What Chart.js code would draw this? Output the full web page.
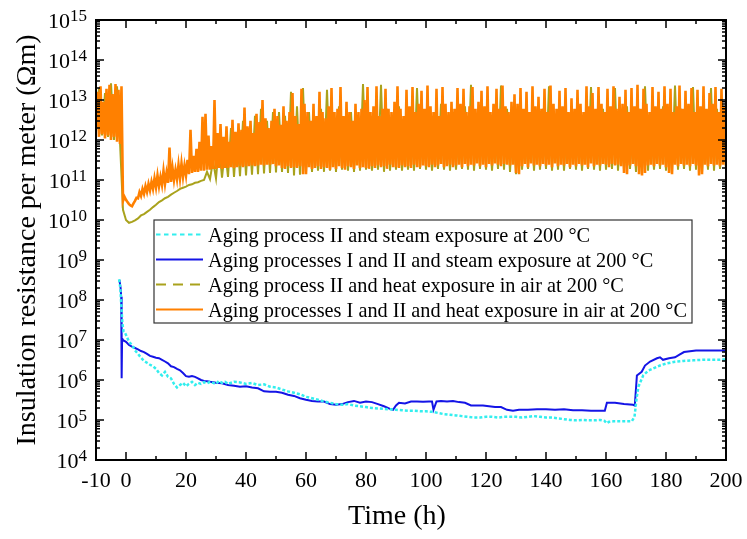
<!DOCTYPE html>
<html>
<head>
<meta charset="utf-8">
<title>Insulation resistance per meter</title>
<script src="https://cdn.jsdelivr.net/npm/chart.js@4/dist/chart.umd.min.js"></script>
<style>
  html, body { margin: 0; padding: 0; background: #fff; }
</style>
</head>
<body>
<canvas id="irChart" width="747" height="539"></canvas>
<script>
// axis ticks
const xTickLabels = [-10, 0, 20, 40, 60, 80, 100, 120, 140, 160, 180, 200];
const xMinorTicks = [10, 30, 50, 70, 90, 110, 130, 150, 170, 190];
const yExponents = [4, 5, 6, 7, 8, 9, 10, 11, 12, 13, 14, 15];

const seriesNames = [
  'Aging process II and steam exposure at 200 \u00b0C',
  'Aging processes I and II and steam exposure at 200 \u00b0C',
  'Aging process II and heat exposure in air at 200 \u00b0C',
  'Aging processes I and II and heat exposure in air at 200 \u00b0C'
];

// steam exposure, aging II (h, Ohm m)
const steamIITime = [-2.3, -1.9, -1.5, -1.2, -0.8, -0.3, 0.3, 1, 2, 3, 4, 5, 6, 7, 8, 9, 10, 11, 12, 13, 14, 15, 16, 17, 18, 19, 20,
  21, 22, 23, 24, 25, 26, 27, 28, 29, 30, 31, 32, 33, 34, 36, 38, 40, 42, 44, 46, 48, 50, 52, 54, 56, 58, 60, 62, 64, 66, 68, 70,
  72, 74, 76, 78, 80, 82, 84, 86, 88, 90, 92, 94, 96, 98, 100, 102, 104, 106, 108, 110, 112, 114, 116, 118, 120, 122, 124, 126,
  128, 130, 132, 134, 136, 138, 140, 142, 144, 146, 148, 150, 152, 154, 156, 158, 159.5, 160.2, 161, 162.5, 165, 168.6, 169.5,
  170.2, 170.8, 172.4, 174, 175.8, 178, 180.2, 183, 185.8, 189, 192.4, 196, 200];
const steamIIValue = [3.3e8, 2e8, 6e7, 2.6e7, 1.6e7, 1.5e7, 1.2e7, 9e6, 7.5e6, 5.5e6, 4.5e6, 3.6e6, 3e6, 2.7e6, 2.4e6, 2.2e6, 1.9e6,
  1.5e6, 1.3e6, 1.6e6, 1.2e6, 1.1e6, 8e5, 6.5e5, 7.5e5, 8.5e5, 7e5, 8e5, 9e5, 7.5e5, 8.5e5, 8e5, 8.8e5, 8.2e5, 9e5, 8.5e5, 8e5,
  9.5e5, 8.5e5, 9e5, 8e5, 9e5, 8.7e5, 8e5, 8.4e5, 7.5e5, 7.8e5, 6.8e5, 6.5e5, 5.8e5, 5.2e5, 4.8e5, 4.4e5, 3.8e5, 3.5e5, 3.2e5,
  2.9e5, 2.7e5, 2.5e5, 2.4e5, 2.5e5, 2.3e5, 2.2e5, 2.1e5, 2e5, 1.95e5, 1.9e5, 1.85e5, 1.8e5, 1.75e5, 1.7e5, 1.7e5, 1.65e5, 1.65e5,
  1.6e5, 1.5e5, 1.4e5, 1.35e5, 1.3e5, 1.25e5, 1.2e5, 1.15e5, 1.15e5, 1.2e5, 1.2e5, 1.15e5, 1.2e5, 1.2e5, 1.2e5, 1.15e5, 1.2e5,
  1.25e5, 1.2e5, 1.15e5, 1.15e5, 1.1e5, 1.05e5, 1e5, 9.8e4, 1e5, 9.8e4, 9.8e4, 1e5, 9.5e4, 8.3e4, 9e4, 9.3e4, 9.3e4, 9.3e4,
  1.2e5, 3.5e5, 6.8e5, 1.3e6, 1.7e6, 1.95e6, 2.3e6, 2.6e6, 2.85e6, 3e6, 3.1e6, 3.2e6, 3.2e6, 3.25e6];

// steam exposure, aging I and II
const steamI_IITime = [-2.2, -1.8, -1.6, -1.45, -1.3, -1, 0, 1, 2, 3, 4, 5, 6, 7, 8, 9, 10, 11, 12, 13, 14, 15, 16, 17, 18, 19,
  20, 21, 22, 23, 24, 25, 26, 27, 28, 30, 32, 34, 36, 38, 40, 42, 44, 46, 48, 50, 52, 54, 56, 58, 60, 62, 64, 66, 68, 70, 72, 74,
  76, 78, 80, 82, 84, 86, 88, 89, 90, 91, 93, 95, 97, 99, 101, 102, 102.5, 103.5, 105, 107, 109, 111, 113, 115, 117, 119, 121,
  123, 125, 127, 129, 131, 134, 137, 140, 143, 146, 149, 152, 155, 159, 159.6, 160.3, 163, 166, 169, 169.6, 170.3, 171.9, 173,
  174.7, 177, 178, 179, 181, 183, 184.5, 186, 190, 195, 200];
const steamI_IIValue = [3.2e8, 2e8, 1.2e8, 1.1e6, 1.1e7, 1e7, 9e6, 7.5e6, 6.8e6, 6.3e6, 5.8e6, 5.3e6, 5e6, 4.5e6, 4e6, 3.8e6,
  3.6e6, 3.5e6, 3.2e6, 2.9e6, 2.6e6, 2.2e6, 2.1e6, 1.9e6, 1.75e6, 1.5e6, 1.25e6, 1.2e6, 1.25e6, 1.2e6, 1.1e6, 1e6, 9.5e5, 9.3e5,
  9e5, 8.5e5, 8.3e5, 7.5e5, 7.2e5, 6.8e5, 7e5, 6.5e5, 6.2e5, 5.2e5, 5.1e5, 5.1e5, 4.8e5, 4.3e5, 4e5, 3.5e5, 3.2e5, 3e5, 2.9e5,
  2.9e5, 2.5e5, 2.4e5, 2.5e5, 2.8e5, 3e5, 2.7e5, 2.9e5, 2.8e5, 2.5e5, 2.2e5, 1.9e5, 1.8e5, 2.3e5, 2.7e5, 2.6e5, 2.9e5, 2.9e5,
  2.85e5, 2.9e5, 2.9e5, 1.8e5, 2.9e5, 3e5, 2.9e5, 3e5, 2.8e5, 2.7e5, 2.3e5, 2.3e5, 2.3e5, 2.2e5, 2.1e5, 2.1e5, 1.8e5, 1.7e5,
  1.8e5, 1.8e5, 1.85e5, 1.85e5, 1.8e5, 1.85e5, 1.75e5, 1.75e5, 1.7e5, 1.7e5, 1.7e5, 2.7e5, 2.7e5, 2.5e5, 2.4e5, 2.3e5, 1.3e6,
  1.6e6, 2.3e6, 2.9e6, 3.5e6, 3.7e6, 3.2e6, 3.5e6, 3.7e6, 4.3e6, 5e6, 5.5e6, 5.5e6, 5.5e6];

// heat exposure in air, aging II: logged every hour from -10 h
const airIIStart = -10;
const airIIStep = 1;
const airIIValue = [
  1.6e12, 2e13, 1.3e12, 1.5e13, 1.2e12, 2.6e13, 1e12, 2.2e13, 9e11, 1.8e10,
  1e10, 8.5e9, 9e9, 9.8e9, 1.1e10, 1.3e10, 1.4e10, 1.6e10, 1.8e10, 2.1e10,
  2.4e10, 2.8e10, 3.1e10, 3.5e10, 3.8e10, 4.3e10, 4.8e10, 5.3e10, 6e10, 6.4e10,
  6.8e10, 7.5e10, 7.8e10, 8.5e10, 8.8e10, 9.5e10, 1e11, 1.6e11, 1.05e11, 3e11,
  1.1e11, 8e11, 1.15e11, 6e11, 1.2e11, 2e12, 1.2e11, 1.5e12, 1.25e11, 3e12,
  1.3e11, 2e12, 1.35e11, 4e12, 1.4e11, 6e12, 1.45e11, 3e12, 1.5e11, 5e12,
  1.55e11, 5e12, 1.6e11, 4e12, 1.5e11, 1.6e13, 1.3e11, 7e12, 1.35e11, 2e13,
  1.5e11, 5e12, 1.6e11, 3e12, 1.7e11, 6e12, 1.6e11, 1.8e13, 1.7e11, 4e12,
  1.6e11, 7e12, 1.8e11, 3e12, 1.7e11, 5e12, 1.6e11, 4e12, 1.7e11, 2.5e13,
  1.8e11, 5e12, 1.7e11, 3e12, 1.8e11, 2.4e13, 1.6e11, 6e12, 1.7e11, 4e12,
  1.8e11, 7e12, 1.7e11, 3e12, 1.8e11, 5e12, 1.7e11, 2e13, 1.9e11, 4e12,
  1.8e11, 6e12, 1.7e11, 3e12, 1.9e11, 8e12, 1.8e11, 4e12, 1.7e11, 5e12,
  1.8e11, 3e12, 1.9e11, 7e12, 1.8e11, 2.4e13, 1.7e11, 4e12, 1.9e11, 6e12,
  1.8e11, 5e12, 1.7e11, 3e12, 1.9e11, 2.3e13, 1.8e11, 6e12, 1.6e11, 4e12,
  1.4e11, 7e12, 1.8e11, 3e12, 1.9e11, 5e12, 1.7e11, 4e12, 1.8e11, 6e12,
  1.9e11, 2.2e13, 1.7e11, 4e12, 1.8e11, 6e12, 1.7e11, 3e12, 1.9e11, 5e12,
  1.8e11, 7e12, 1.7e11, 4e12, 1.9e11, 2.1e13, 1.8e11, 3e12, 1.7e11, 6e12,
  1.8e11, 5e12, 1.9e11, 2e13, 1.7e11, 4e12, 1.8e11, 7e12, 1.9e11, 3e12,
  1.6e11, 6e12, 1.4e11, 2.2e13, 1.7e11, 4e12, 1.8e11, 5e12, 1.9e11, 7e12,
  1.7e11, 3e12, 1.5e11, 2.3e13, 1.8e11, 6e12, 1.9e11, 4e12, 1.7e11, 2.1e13,
  1.8e11, 5e12, 1.5e11, 3e12, 1.8e11, 2e13, 1.7e11, 6e12, 1.9e11, 4e12,
  1.8e11
];

// heat exposure in air, aging I and II: logged every half hour from -10 h
const airI_IIStart = -10;
const airI_IIStep = 0.5;
const airI_IIValue = [
  2e12, 1.6e13, 1.2e12, 2.2e13, 1.4e12, 9e12, 1.1e12, 1.9e13, 1.3e12, 2.4e13,
  1e12, 1.4e13, 1.2e12, 2.5e13, 9e11, 1.8e13, 8e11, 2.2e13, 3e10, 3.8e10,
  3.2e10, 2.8e10, 2.5e10, 2.3e10, 2.2e10, 2.6e10, 3e10, 3.6e10, 3.5e10, 5e10, 4e10, 6e10, 4.5e10, 7e10, 5e10, 8e10, 5.5e10, 9e10, 6e10, 1.1e11,
  6.5e10, 1.3e11, 7e10, 1.2e11, 7.5e10, 1.7e11, 8e10, 1.5e11, 8.5e10, 6.5e11, 9e10, 2e11, 1e11, 1.8e11, 1.05e11, 2.4e11, 1.1e11, 2.6e11, 1.2e11, 2.3e11,
  1.3e11, 3.2e11, 1.4e11, 1.8e12, 1.5e11, 4e11, 1.6e11, 6e11, 1.6e11, 9e11, 1.7e11, 3.8e12, 1.7e11, 4.5e12, 1.8e11, 1.3e12, 1.8e11, 7e11, 1.9e11, 1e13,
  1.9e11, 1.5e12, 2e11, 2.5e12, 1.9e11, 1.2e12, 2e11, 2.2e12, 2e11, 9e11, 2.1e11, 3.2e12, 2e11, 1.6e12, 2.1e11, 2.6e12, 2.2e11, 1.8e12, 2.1e11, 6.5e12,
  2.2e11, 2.2e12, 2.2e11, 3e12, 2.3e11, 1.5e12, 2.2e11, 4.5e12, 2.3e11, 2.8e12, 2.4e11, 1e13, 2.3e11, 3.5e12, 2.4e11, 2e12, 2.4e11, 3e12, 2.5e11, 6e12,
  2.2e11, 4e12, 2.3e11, 2.4e12, 2e11, 7e12, 1.9e11, 3e12, 2.2e11, 5e12, 2e11, 1.5e13, 2.1e11, 4e12, 2e11, 2.5e12, 2.2e11, 1.9e13, 1.4e11, 8e12,
  1.4e11, 5e12, 2.1e11, 3e12, 1.9e11, 8e12, 2e11, 4e12, 2.2e11, 1.6e13, 1.9e11, 5e12, 2.1e11, 3.5e12, 2e11, 7e12, 1.8e11, 2e13, 2.1e11, 5e12,
  1.9e11, 6e12, 2.2e11, 2.1e13, 2e11, 4e12, 1.8e11, 9e12, 2.2e11, 5e12, 2.1e11, 3e12, 1.9e11, 8e12, 2.3e11, 5e12, 2e11, 6e12, 2.1e11, 1e13,
  2e11, 2.1e13, 1.9e11, 5e12, 2.2e11, 7e12, 2e11, 2.2e13, 2.3e11, 4e12, 2.1e11, 6e12, 2.2e11, 1.9e13, 1.9e11, 6e12, 2.4e11, 5e12, 2.1e11, 9e12,
  2.1e11, 2.2e13, 2e11, 6e12, 2.3e11, 4e12, 2.1e11, 1.8e13, 2.2e11, 7e12, 2e11, 2.1e13, 2.4e11, 5e12, 2.1e11, 8e12, 2.1e11, 1.7e13, 2.3e11, 6e12,
  2.2e11, 2.3e13, 2.1e11, 7e12, 2.4e11, 5e12, 2.1e11, 1.9e13, 2.3e11, 4e12, 2.5e11, 2.1e13, 2.1e11, 8e12, 2.2e11, 5e12, 2.4e11, 9e12, 2.1e11, 6e12,
  2.3e11, 2e13, 2.4e11, 8e12, 2.1e11, 1.9e13, 2.5e11, 5e12, 2.2e11, 7e12, 2.4e11, 2.1e13, 2.3e11, 6e12, 2.6e11, 9e12, 2.2e11, 1.7e13, 2.4e11, 7e12,
  2.1e11, 2.2e13, 2.5e11, 5e12, 2.3e11, 8e12, 2.6e11, 1.9e13, 2.4e11, 6e12, 2.2e11, 2.3e13, 2.5e11, 7e12, 2.4e11, 5e12, 2.3e11, 9e12, 2.4e11, 1.4e13,
  1.5e11, 8e12, 1.4e11, 2e13, 2.2e11, 6e12, 2.5e11, 1.6e13, 2.1e11, 5e12, 2.6e11, 2.2e13, 2.3e11, 7e12, 2.4e11, 1.2e13, 2.2e11, 6e12, 2.5e11, 1.9e13,
  2.3e11, 5e12, 2.4e11, 2.3e13, 2.1e11, 8e12, 2.6e11, 6e12, 2.2e11, 1.7e13, 2.4e11, 7e12, 2.3e11, 2e13, 2.5e11, 5e12, 2.1e11, 1.1e13, 2.4e11, 6e12,
  2.2e11, 1.8e13, 2.5e11, 8e12, 2.3e11, 5e12, 2.4e11, 2.2e13, 2.1e11, 7e12, 2.6e11, 1.5e13, 2.2e11, 6e12, 2.4e11, 2.1e13, 2.3e11, 8e12, 2.5e11, 5e12,
  2.4e11, 1.9e13, 2.1e11, 7e12, 2.5e11, 2.2e13, 2.3e11, 6e12, 2.4e11, 1.2e13, 2.2e11, 8e12, 1.5e11, 1.8e13, 1.4e11, 5e12, 2.3e11, 2e13, 2.5e11, 7e12,
  2.2e11, 2.4e13, 1.4e11, 6e12, 1.3e11, 1.9e13, 1.5e11, 8e12, 2.3e11, 5e12, 2.4e11, 2.1e13, 2.2e11, 7e12, 2.5e11, 1.6e13, 2.3e11, 6e12, 2.4e11, 2.2e13,
  2.1e11, 8e12, 1.5e11, 1.9e13, 1.4e11, 5e12, 2.4e11, 7e12, 2.2e11, 2.3e13, 2.5e11, 6e12, 2.3e11, 1.7e13, 2.4e11, 8e12, 2.2e11, 2e13, 2.5e11, 5e12,
  2.3e11, 1.8e13, 1.3e11, 7e12, 1.4e11, 2.2e13, 2.4e11, 6e12, 2.2e11, 1.5e13, 2.5e11, 8e12, 2.3e11, 2.1e13, 2.4e11, 5e12, 2.2e11, 1.9e13, 2.4e11, 7e12,
  2.3e11
];

const colors = ['#33eeee', '#1414e6', '#a9a21c', '#ff8000'];
const SERIF = '"Liberation Serif", "Times New Roman", serif';

function pairs(times, values) {
  return values.map((v, i) => ({ x: times[i], y: v }));
}

function sampled(start, step, values) {
  return values.map((v, i) => ({ x: start + i * step, y: v }));
}

// frame with inward ticks on all four sides, tick labels, titles and the boxed legend
const axesFrame = {
  id: 'axesFrame',
  afterDraw(chart) {
    const { ctx, chartArea: a } = chart;
    const xs = chart.scales.x, ys = chart.scales.y;
    ctx.save();

    ctx.strokeStyle = '#000';
    ctx.lineWidth = 1.5;
    ctx.beginPath();
    const vTick = (px, len) => {
      ctx.moveTo(px, a.bottom); ctx.lineTo(px, a.bottom - len);
      ctx.moveTo(px, a.top); ctx.lineTo(px, a.top + len);
    };
    const hTick = (py, len) => {
      ctx.moveTo(a.left, py); ctx.lineTo(a.left + len, py);
      ctx.moveTo(a.right, py); ctx.lineTo(a.right - len, py);
    };
    xTickLabels.forEach(v => vTick(xs.getPixelForValue(v), 8));
    xMinorTicks.forEach(v => vTick(xs.getPixelForValue(v), 4));
    yExponents.forEach((e, i) => {
      hTick(ys.getPixelForValue(Math.pow(10, e)), 8);
      if (i < yExponents.length - 1) {
        for (let m = 2; m <= 9; m++) hTick(ys.getPixelForValue(m * Math.pow(10, e)), 4);
      }
    });
    ctx.stroke();

    ctx.lineWidth = 2;
    ctx.strokeRect(a.left, a.top, a.right - a.left, a.bottom - a.top);

    // tick labels
    ctx.fillStyle = '#000';
    ctx.textBaseline = 'alphabetic';
    ctx.font = '22px ' + SERIF;
    ctx.textAlign = 'center';
    xTickLabels.forEach(v => ctx.fillText(String(v), xs.getPixelForValue(v), a.bottom + 27));

    yExponents.forEach(e => {
      const py = ys.getPixelForValue(Math.pow(10, e));
      ctx.font = '17px ' + SERIF;
      const sup = String(e);
      const sw = ctx.measureText(sup).width;
      ctx.textAlign = 'right';
      ctx.fillText(sup, a.left - 9, py + 1);
      ctx.font = '22px ' + SERIF;
      ctx.fillText('10', a.left - 9 - sw, py + 8);
    });

    // axis titles
    ctx.font = '28px ' + SERIF;
    ctx.textAlign = 'center';
    ctx.fillText('Time (h)', 397, a.bottom + 64);
    ctx.save();
    ctx.translate(35, (a.top + a.bottom) / 2);
    ctx.rotate(-Math.PI / 2);
    ctx.fillText('Insulation resistance per meter (\u03a9m)', 0, 0);
    ctx.restore();

    // legend
    const lx = 154, ly = 220, lw = 538, lh = 103;
    ctx.fillStyle = '#fff';
    ctx.fillRect(lx, ly, lw, lh);
    ctx.strokeStyle = '#333';
    ctx.lineWidth = 1.2;
    ctx.strokeRect(lx, ly, lw, lh);
    const dashes = [[4.5, 3.5], [], [10, 7], []];
    ctx.font = '20.3px ' + SERIF;
    ctx.textAlign = 'left';
    seriesNames.forEach((name, i) => {
      const ry = ly + 14.5 + i * 25;
      ctx.strokeStyle = colors[i];
      ctx.lineWidth = 2;
      ctx.setLineDash(dashes[i]);
      ctx.beginPath();
      ctx.moveTo(lx + 2, ry);
      ctx.lineTo(lx + 49, ry);
      ctx.stroke();
      ctx.setLineDash([]);
      ctx.fillStyle = '#000';
      ctx.fillText(name, lx + 54, ry + 7);
    });
    ctx.restore();
  }
};

new Chart(document.getElementById('irChart'), {
  type: 'line',
  data: {
    datasets: [
      {
        label: seriesNames[0],
        data: pairs(steamIITime, steamIIValue),
        borderColor: colors[0],
        borderWidth: 2.5,
        borderDash: [3, 2],
        order: 2
      },
      {
        label: seriesNames[1],
        data: pairs(steamI_IITime, steamI_IIValue),
        borderColor: colors[1],
        borderWidth: 2,
        order: 3
      },
      {
        label: seriesNames[2],
        data: sampled(airIIStart, airIIStep, airIIValue),
        borderColor: colors[2],
        borderWidth: 2,
        order: 1
      },
      {
        label: seriesNames[3],
        data: sampled(airI_IIStart, airI_IIStep, airI_IIValue),
        borderColor: colors[3],
        borderWidth: 2.6,
        order: 0
      }
    ]
  },
  options: {
    responsive: false,
    animation: false,
    events: [],
    layout: { padding: { left: 96, right: 21, top: 20, bottom: 79 } },
    elements: { point: { radius: 0 }, line: { tension: 0, fill: false } },
    plugins: { legend: { display: false }, tooltip: { enabled: false } },
    scales: {
      x: { type: 'linear', min: -10, max: 200, display: false },
      y: { type: 'logarithmic', min: 1e4, max: 1e15, display: false }
    }
  },
  plugins: [axesFrame]
});
</script>
</body>
</html>
